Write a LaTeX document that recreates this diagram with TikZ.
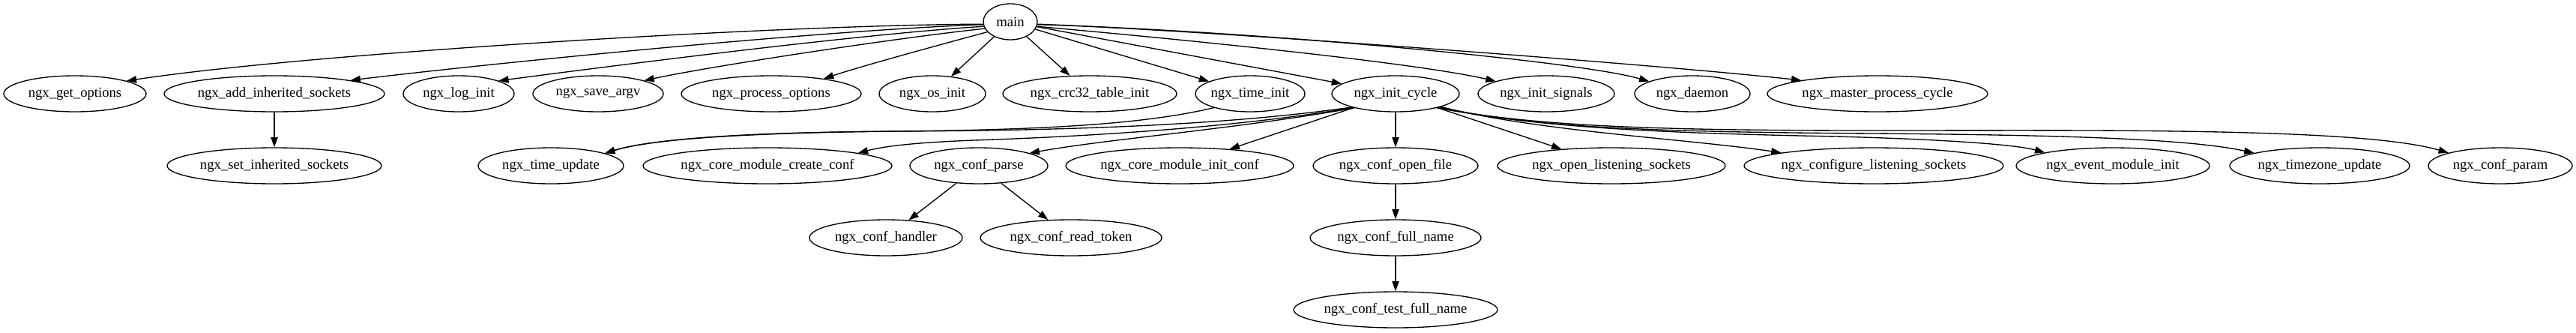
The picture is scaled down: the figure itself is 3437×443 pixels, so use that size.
\documentclass[tikz,border=0pt]{standalone}
\usepackage{fontspec}
\setmainfont{Liberation Serif}
\usetikzlibrary{shapes.geometric,arrows.meta}
\newcommand{\gvl}[1]{\makebox[0pt]{#1}}
\begin{document}
\begin{tikzpicture}[x=0.75pt,y=-0.75pt,
  gnode/.style={ellipse, draw, line width=1pt, inner sep=0pt, minimum height=36pt, font=\fontsize{14pt}{16pt}\selectfont},
  hw/.style={minimum width=#1*1.5pt},
  gvedge/.style={draw, line width=1pt, -{Triangle[length=10pt,width=7pt]}}]
\useasboundingbox (0,0) rectangle (3437,443);
% rank 0
\node[gnode, hw=36] (main) at (1348,29) {\gvl{main}};
% rank 1
\node[gnode, hw=95]  (getopt)    at (100,125)  {\gvl{ngx\_get\_options}};
\node[gnode, hw=147] (addinh)    at (366,125)  {\gvl{ngx\_add\_inherited\_sockets}};
\node[gnode, hw=74]  (loginit)   at (612,125)  {\gvl{ngx\_log\_init}};
\node[gnode, hw=87]  (saveargv)  at (798,125)  {\gvl{ngx\_save\_argv}};
\node[gnode, hw=120] (procopt)   at (1029,125) {\gvl{ngx\_process\_options}};
\node[gnode, hw=71]  (osinit)    at (1244,125) {\gvl{ngx\_os\_init}};
\node[gnode, hw=116] (crc)       at (1454,125) {\gvl{ngx\_crc32\_table\_init}};
\node[gnode, hw=73]  (timeinit)  at (1668,125) {\gvl{ngx\_time\_init}};
\node[gnode, hw=85]  (initcycle) at (1862,125) {\gvl{ngx\_init\_cycle}};
\node[gnode, hw=91]  (initsig)   at (2063,125) {\gvl{ngx\_init\_signals}};
\node[gnode, hw=77]  (daemon)    at (2258,125) {\gvl{ngx\_daemon}};
\node[gnode, hw=147] (master)    at (2505,125) {\gvl{ngx\_master\_process\_cycle}};
% rank 2
\node[gnode, hw=143] (setinh)       at (366,221)  {\gvl{ngx\_set\_inherited\_sockets}};
\node[gnode, hw=97]  (timeupd)      at (735,221)  {\gvl{ngx\_time\_update}};
\node[gnode, hw=166] (createconf)   at (1024,221) {\gvl{ngx\_core\_module\_create\_conf}};
\node[gnode, hw=92]  (confparse)    at (1306,221) {\gvl{ngx\_conf\_parse}};
\node[gnode, hw=152] (initconf)     at (1574,221) {\gvl{ngx\_core\_module\_init\_conf}};
\node[gnode, hw=110] (openfile)     at (1862,221) {\gvl{ngx\_conf\_open\_file}};
\node[gnode, hw=152] (openlisten)   at (2150,221) {\gvl{ngx\_open\_listening\_sockets}};
\node[gnode, hw=173] (configlisten) at (2500,221) {\gvl{ngx\_configure\_listening\_sockets}};
\node[gnode, hw=129] (eventinit)    at (2819,221) {\gvl{ngx\_event\_module\_init}};
\node[gnode, hw=120] (tzupdate)     at (3095,221) {\gvl{ngx\_timezone\_update}};
\node[gnode, hw=96]  (confparam)    at (3336,221) {\gvl{ngx\_conf\_param}};
% rank 3
\node[gnode, hw=102] (confhandler)  at (1182,317) {\gvl{ngx\_conf\_handler}};
\node[gnode, hw=121] (readtoken)    at (1429,317) {\gvl{ngx\_conf\_read\_token}};
\node[gnode, hw=114] (fullname)     at (1862,317) {\gvl{ngx\_conf\_full\_name}};
% rank 4
\node[gnode, hw=136] (testfullname) at (1862,413) {\gvl{ngx\_conf\_test\_full\_name}};

% edges from main
\path[gvedge] (main.185) .. controls (1050,33) and (420,70) .. (getopt.14);
\path[gvedge] (main.186) .. controls (1100,40) and (650,85) .. (addinh.10);
\path[gvedge] (main.190) .. controls (1150,45) and (800,90) .. (loginit.18);
\path[gvedge] (main.195) .. controls (1200,50) and (950,88) .. (saveargv.16);
\path[gvedge] (main.204) .. controls (1260,58) and (1150,88) .. (procopt.16);
\path[gvedge] (main) -- (osinit);
\path[gvedge] (main) -- (crc);
\path[gvedge] (main) -- (timeinit);
\path[gvedge] (main) -- (initcycle);
\path[gvedge] (main.350) .. controls (1550,50) and (1880,82) .. (initsig.166);
\path[gvedge] (main.354) .. controls (1650,40) and (2100,80) .. (daemon.164);
\path[gvedge] (main.355) .. controls (1600,40) and (2200,85) .. (master.170);
% other edges
\path[gvedge] (addinh) -- (setinh);
\path[gvedge] (timeinit.201) .. controls (1530,165) and (1400,173) .. (1200,175) .. controls (1000,177) and (870,185) .. (timeupd.13);
\path[gvedge] (initcycle.197) .. controls (1650,165) and (1450,174) .. (1200,175) .. controls (1000,176) and (870,185) .. (timeupd.13);
\path[gvedge] (initcycle.198) .. controls (1650,170) and (1450,182) .. (1300,187) .. controls (1220,190) and (1180,195) .. (createconf.8);
\path[gvedge] (initcycle.199) .. controls (1650,172) and (1480,185) .. (confparse.14);
\path[gvedge] (initcycle) -- (initconf);
\path[gvedge] (initcycle) -- (openfile);
\path[gvedge] (initcycle) -- (openlisten);
\path[gvedge] (initcycle.344) .. controls (2050,175) and (2250,185) .. (configlisten.172);
\path[gvedge] (initcycle.343) .. controls (2050,172) and (2250,178) .. (2450,182) .. controls (2600,186) and (2690,193) .. (eventinit.169);
\path[gvedge] (initcycle.342) .. controls (2050,170) and (2200,176) .. (2500,178) .. controls (2750,180) and (2920,185) .. (tzupdate.169);
\path[gvedge] (initcycle.341) .. controls (2050,168) and (2200,174) .. (2500,174) .. controls (2800,174) and (3150,170) .. (confparam.166);
\path[gvedge] (confparse) -- (confhandler);
\path[gvedge] (confparse) -- (readtoken);
\path[gvedge] (openfile) -- (fullname);
\path[gvedge] (fullname) -- (testfullname);
\end{tikzpicture}
\end{document}
